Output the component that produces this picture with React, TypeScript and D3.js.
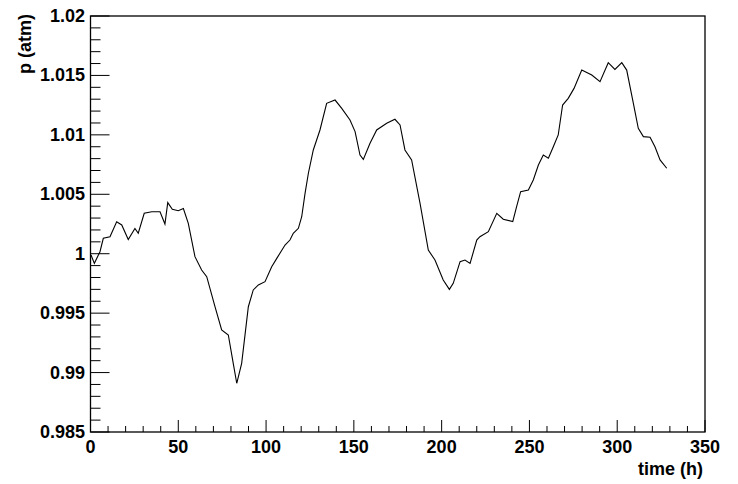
import React from "react";
import * as d3 from "d3";

const timeH: number[] = [
  0.3, 2.2, 5.4, 7.3, 11.1, 14.9, 17.8, 21.5, 25.3, 27.2, 30.6, 34.9, 39.6, 42.4, 44.0, 46.6, 50.0, 52.9, 55.7,
  59.5, 63.3, 66.2, 70.9, 74.7, 78.5, 81.3, 83.3, 86.1, 89.9, 92.7, 95.6, 99.4, 103.2, 106.1, 110.8,
  113.6, 115.5, 118.4, 120.3, 122.2, 124.1, 126.9, 130.7, 134.5, 139.3, 143.1, 147.8, 150.7, 153.5, 155.4,
  159.2, 163.0, 168.7, 173.4, 176.3, 179.1, 182.9, 187.7, 192.4, 196.2, 200.9, 204.4, 206.6, 210.5, 213.3,
  216.2, 220.0, 221.8, 226.6, 231.4, 235.1, 240.5, 242.7, 245.0, 249.4, 252.2, 255.1, 257.9, 260.8, 263.6,
  266.4, 268.9, 272.1, 275.4, 279.8, 285.5, 290.2, 294.9, 298.7, 302.6, 305.4, 309.2, 312.0, 314.9, 318.7,
  321.5, 324.4, 328.2,
];

const pressure: number[] = [
  0.99989, 0.99919, 1.00017, 1.0013, 1.00143, 1.00269, 1.00242, 1.0012, 1.00213, 1.00172, 1.0034, 1.00353,
  1.00353, 1.0025, 1.0043, 1.00374, 1.00362, 1.0038, 1.00256,
  0.99975, 0.99863, 0.99807, 0.99554, 0.99358, 0.99316, 0.99078, 0.9891, 0.99078, 0.99554, 0.99695,
  0.99737, 0.99765, 0.99891, 0.99961, 1.00073,
  1.00115, 1.00172, 1.00214, 1.00311, 1.00508, 1.00677, 1.00873, 1.01041, 1.01265, 1.01293, 1.01223,
  1.01125, 1.01027, 1.0083, 1.00794,
  1.00929, 1.01041, 1.01097, 1.01131, 1.01083, 1.00873, 1.00789, 1.00424, 1.00031, 0.99947, 0.99779,
  0.997, 0.99751, 0.99933, 0.99947,
  0.99919, 1.00115, 1.00143, 1.00185, 1.0034, 1.0029, 1.0027, 1.00396, 1.00522, 1.00536, 1.0062,
  1.00746, 1.0083, 1.00803, 1.009,
  1.00999, 1.01251, 1.01307, 1.01391, 1.01545, 1.01503, 1.01447, 1.01607, 1.01551, 1.01607, 1.01545,
  1.01265, 1.01055, 1.00985, 1.0098,
  1.009, 1.00789, 1.00719,
];

const xMajorTicks: number[] = [0, 50, 100, 150, 200, 250, 300, 350];
const yMajorTicks: number[] = [0.985, 0.99, 0.995, 1, 1.005, 1.01, 1.015, 1.02];
const xTitle = "time (h)";
const yTitle = "p (atm)";

export default function App() {
  const W = 738;
  const H = 484;
  const left = 90.5;
  const right = 705;
  const top = 16;
  const bottom = 432;

  const x = d3.scaleLinear().domain([0, 350]).range([left, right]);
  const y = d3.scaleLinear().domain([0.985, 1.02]).range([bottom, top]);

  const xMinor = d3.range(0, 351, 10).filter((v) => v % 50 !== 0);
  const yMinor = d3
    .range(0, 36)
    .map((i) => 0.985 + i * 0.001)
    .filter((_, i) => i % 5 !== 0);

  const pts: [number, number][] = timeH.map((t, i) => [t, pressure[i]]);
  const line = d3
    .line<[number, number]>()
    .x((d) => x(d[0]))
    .y((d) => y(d[1]));

  const fmtY = (v: number) => String(+v.toFixed(3));
  const font = "'Liberation Sans', Arial, Helvetica, sans-serif";

  return (
    <svg width={W} height={H} style={{ position: "absolute", left: 0, top: 0, background: "#fff" }}>
      <rect x={0} y={0} width={W} height={H} fill="#fff" />
      <path d={line(pts) || ""} fill="none" stroke="#000" strokeWidth={1.1} />
      <rect x={left} y={top} width={right - left} height={bottom - top} fill="none" stroke="#000" strokeWidth={1.3} />
      {yMajorTicks.map((v) => (
        <line key={"ym" + v} x1={left} x2={left + 19} y1={y(v)} y2={y(v)} stroke="#000" strokeWidth={1} />
      ))}
      {yMinor.map((v, i) => (
        <line key={"yn" + i} x1={left} x2={left + 10} y1={y(v)} y2={y(v)} stroke="#000" strokeWidth={1} />
      ))}
      {xMajorTicks.map((v) => (
        <line key={"xm" + v} x1={x(v)} x2={x(v)} y1={bottom} y2={bottom - 12} stroke="#000" strokeWidth={1} />
      ))}
      {xMinor.map((v) => (
        <line key={"xn" + v} x1={x(v)} x2={x(v)} y1={bottom} y2={bottom - 6} stroke="#000" strokeWidth={1} />
      ))}
      {yMajorTicks.map((v) => (
        <text
          key={"yl" + v}
          x={85}
          y={y(v) + 6}
          textAnchor="end"
          fontFamily={font}
          fontWeight="bold"
          fontSize={18}
          fill="#000"
        >
          {fmtY(v)}
        </text>
      ))}
      {xMajorTicks.map((v) => (
        <text
          key={"xl" + v}
          x={x(v)}
          y={453}
          textAnchor="middle"
          fontFamily={font}
          fontWeight="bold"
          fontSize={18}
          fill="#000"
        >
          {v}
        </text>
      ))}
      <text x={703} y={475} textAnchor="end" fontFamily={font} fontWeight="bold" fontSize={18} fill="#000">
        {xTitle}
      </text>
      <text
        transform="translate(31,14) rotate(-90)"
        textAnchor="end"
        fontFamily={font}
        fontWeight="bold"
        fontSize={18}
        fill="#000"
      >
        {yTitle}
      </text>
    </svg>
  );
}
